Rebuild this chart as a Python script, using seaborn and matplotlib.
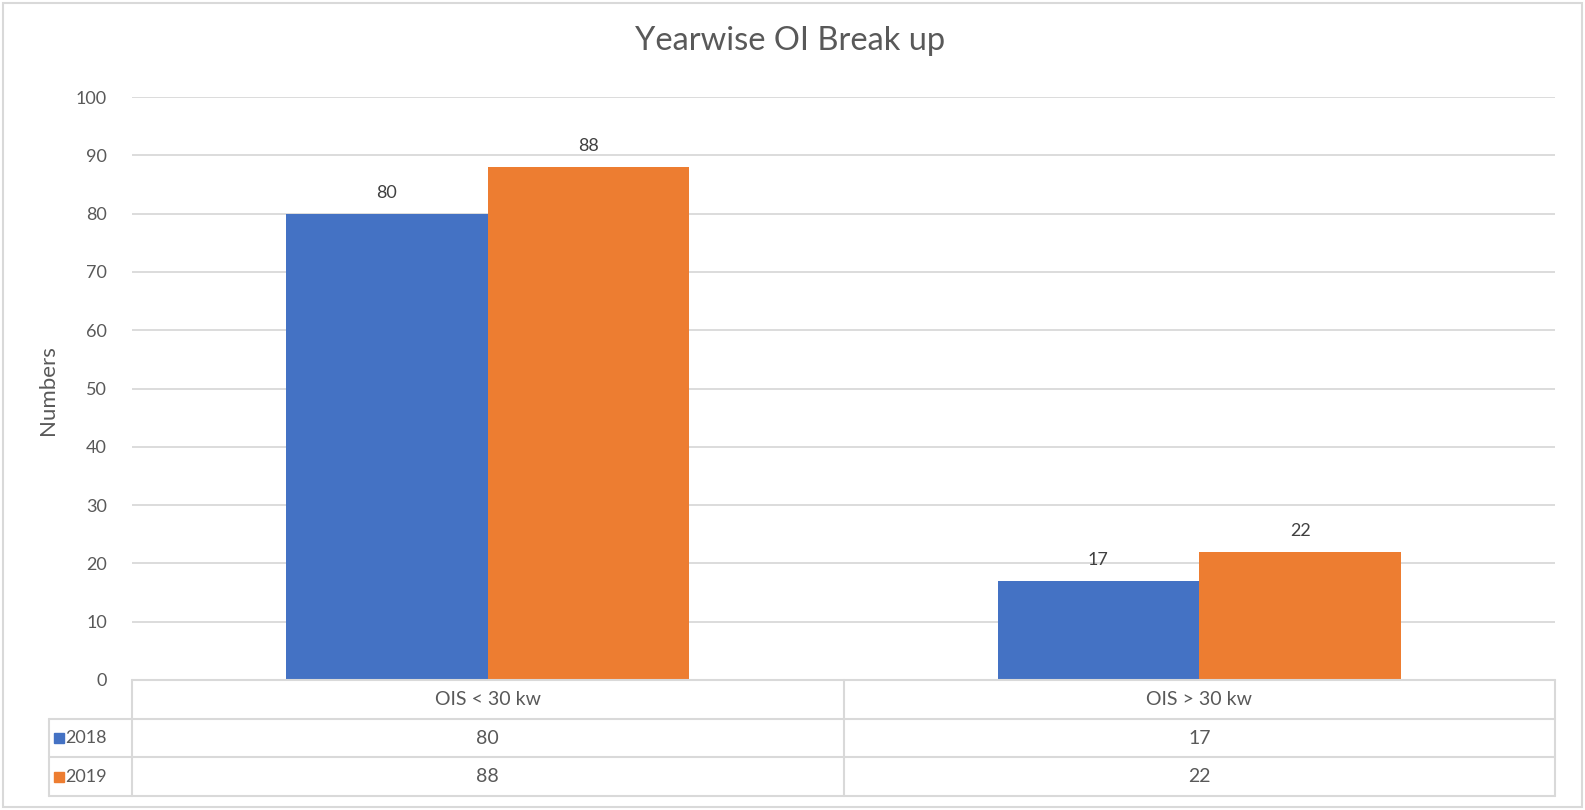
import matplotlib
matplotlib.use("Agg")
import matplotlib.pyplot as plt
import matplotlib.patches as mpatches
import matplotlib.transforms as mtransforms
import pandas as pd
import seaborn as sns

# Data
categories = ["OIS < 30 kw", "OIS > 30 kw"]
years = ["2018", "2019"]
values_2018 = [80, 17]
values_2019 = [88, 22]
colors = ["#4472C4", "#ED7D31"]

df = pd.DataFrame({
    "category": categories * 2,
    "year": [years[0]] * len(categories) + [years[1]] * len(categories),
    "value": values_2018 + values_2019,
})

sns.set_style("white")
plt.rcParams["font.family"] = ["Lato", "DejaVu Sans"]

TEXT = "#595959"
GRID = "#D9D9D9"
W, H = 1585, 810

fig = plt.figure(figsize=(W / 100, H / 100), dpi=100)
ax = fig.add_axes([132 / W, 1 - 680 / H, (1555 - 132) / W, (680 - 97) / H])

sns.barplot(
    data=df, x="category", y="value", hue="year",
    palette=colors, width=0.567, saturation=1,
    linewidth=0, legend=False, ax=ax
)

for container in ax.containers:
    ax.bar_label(container, padding=9, fontsize=13, color="#404040")

ax.set_xlim(-0.5, len(categories) - 0.5)
ax.set_ylim(0, 100)
ax.set_yticks(range(0, 101, 10))
ax.yaxis.grid(True, color=GRID, linewidth=1.3)
ax.set_axisbelow(True)
for s in ax.spines.values():
    s.set_visible(False)
ax.tick_params(axis="y", length=0, pad=18, labelsize=13, labelcolor=TEXT)
ax.set_xticks([])
ax.set_xlabel("")
ax.set_ylabel("")

# Data table below the plot
trans = mtransforms.blended_transform_factory(ax.transData, ax.transAxes)
plot_h = 680 - 97
rows = [(680 - y) / plot_h for y in (680, 719, 757, 796)]
x_left = -0.5
x_right = len(categories) - 0.5
x_legend = -0.5 + (48.5 - 132) / 711.5
line_kw = dict(color=GRID, linewidth=1.5, transform=trans, clip_on=False)

ax.plot([x_left, x_right], [rows[0], rows[0]], **line_kw)
for r in rows[1:]:
    ax.plot([x_legend, x_right], [r, r], **line_kw)
for i in range(len(categories) + 1):
    ax.plot([x_left + i, x_left + i], [rows[0], rows[3]], **line_kw)
ax.plot([x_legend, x_legend], [rows[1], rows[3]], **line_kw)

row_mid = [(rows[k] + rows[k + 1]) / 2 for k in range(3)]
for i, cat in enumerate(categories):
    ax.text(i, row_mid[0], cat, ha="center", va="center", fontsize=14,
            color=TEXT, transform=trans, clip_on=False)
    ax.text(i, row_mid[1], str(values_2018[i]), ha="center", va="center",
            fontsize=14, color=TEXT, transform=trans, clip_on=False)
    ax.text(i, row_mid[2], str(values_2019[i]), ha="center", va="center",
            fontsize=14, color=TEXT, transform=trans, clip_on=False)

for k, (yr, col) in enumerate(zip(years, colors)):
    ax.plot([-0.5 + (59 - 132) / 711.5], [row_mid[k + 1]], marker="s", ms=7,
            color=col, transform=trans, clip_on=False)
    ax.text(-0.5 + (65 - 132) / 711.5, row_mid[k + 1], yr, ha="left",
            va="center", fontsize=13, color=TEXT, transform=trans, clip_on=False)

fig.text(790 / W, 1 - 41 / H, "Yearwise OI Break up", ha="center",
         va="center", fontsize=23.5, color=TEXT)
fig.text(48 / W, 1 - 390 / H, "Numbers", ha="center", va="center",
         rotation=90, fontsize=16, color=TEXT)

fig.patches.append(mpatches.Rectangle(
    (3 / W, 3 / H), (W - 6) / W, (H - 6) / H, transform=fig.transFigure,
    fill=False, edgecolor=GRID, linewidth=1.5
))

fig.savefig("out.png", dpi=100)
